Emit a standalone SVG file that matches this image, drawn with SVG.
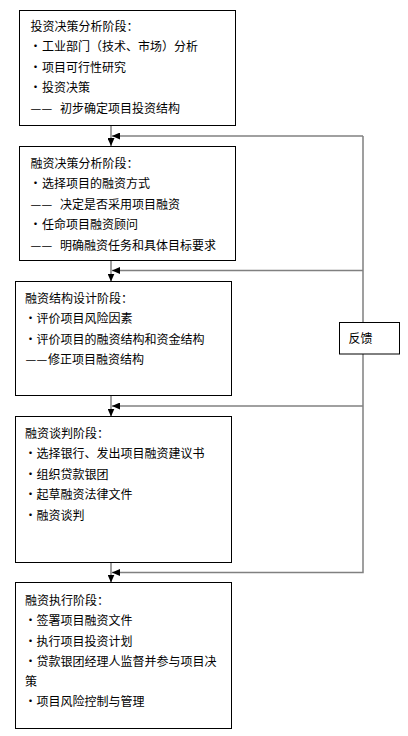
<svg xmlns="http://www.w3.org/2000/svg" width="408" height="736" viewBox="0 0 408 736">
<style>
.box{fill:#fff;stroke:#000;stroke-width:1}
.t{font-family:"Noto Sans CJK SC","Noto Sans CJK JP",sans-serif;font-size:12px;fill:#000}
.d{text-anchor:middle}
.ln{fill:none;stroke:#808080;stroke-width:1.5}
</style>
<defs>
<marker id="ah" markerUnits="userSpaceOnUse" markerWidth="8" markerHeight="7" refX="8" refY="3.5" orient="auto">
<path d="M0,0 L8,3.5 L0,7 z" fill="#000"/>
</marker>
</defs>
<rect width="408" height="736" fill="#fff"/>
<g id="connectors">
<path class="ln" d="M111,125.5 V146" marker-end="url(#ah)"/>
<path class="ln" d="M111,260.5 V281.5" marker-end="url(#ah)"/>
<path class="ln" d="M111,395.5 V416.5" marker-end="url(#ah)"/>
<path class="ln" d="M111,562.5 V582.5" marker-end="url(#ah)"/>
<path class="ln" d="M363,136 H112" marker-end="url(#ah)"/>
<path class="ln" d="M363,270.5 H112" marker-end="url(#ah)"/>
<path class="ln" d="M363,406 H112" marker-end="url(#ah)"/>
<path class="ln" d="M363,136 V572.5 H112" marker-end="url(#ah)"/>
</g>
<g id="node1">
<rect class="box" x="19.5" y="10.5" width="216" height="115"/>
<text class="t" x="30.5" y="30.5">投资决策分析阶段：</text>
<text class="t" y="51"><tspan class="d" x="35.5">·</tspan><tspan x="42">工业部门（技术、市场）分析</tspan></text>
<text class="t" y="71.5"><tspan class="d" x="35.5">·</tspan><tspan x="42">项目可行性研究</tspan></text>
<text class="t" y="92"><tspan class="d" x="35.5">·</tspan><tspan x="42">投资决策</tspan></text>
<text class="t" y="112.5"><tspan x="30.5">—</tspan><tspan x="41.5">— </tspan><tspan x="60">初步确定项目投资结构</tspan></text>
</g>
<g id="node2">
<rect class="box" x="19.5" y="146.5" width="216" height="114"/>
<text class="t" x="30.5" y="167.5">融资决策分析阶段：</text>
<text class="t" y="188"><tspan class="d" x="35.5">·</tspan><tspan x="42">选择项目的融资方式</tspan></text>
<text class="t" y="208.5"><tspan x="30.5">—</tspan><tspan x="41.5">— </tspan><tspan x="60">决定是否采用项目融资</tspan></text>
<text class="t" y="229"><tspan class="d" x="35.5">·</tspan><tspan x="42">任命项目融资顾问</tspan></text>
<text class="t" y="249.5"><tspan x="30.5">—</tspan><tspan x="41.5">— </tspan><tspan x="60">明确融资任务和具体目标要求</tspan></text>
</g>
<g id="node3">
<rect class="box" x="15.5" y="281.5" width="216" height="114"/>
<text class="t" x="25" y="302.5">融资结构设计阶段：</text>
<text class="t" y="323"><tspan class="d" x="30.5">·</tspan><tspan x="36.5">评价项目风险因素</tspan></text>
<text class="t" y="343.5"><tspan class="d" x="30.5">·</tspan><tspan x="36.5">评价项目的融资结构和资金结构</tspan></text>
<text class="t" y="364"><tspan x="25.5">—</tspan><tspan x="36.5">—</tspan><tspan x="48">修正项目融资结构</tspan></text>
</g>
<g id="node4">
<rect class="box" x="15.5" y="416.5" width="216" height="146"/>
<text class="t" x="25" y="437.5">融资谈判阶段：</text>
<text class="t" y="458"><tspan class="d" x="30.5">·</tspan><tspan x="36.5">选择银行、发出项目融资建议书</tspan></text>
<text class="t" y="478.5"><tspan class="d" x="30.5">·</tspan><tspan x="36.5">组织贷款银团</tspan></text>
<text class="t" y="499"><tspan class="d" x="30.5">·</tspan><tspan x="36.5">起草融资法律文件</tspan></text>
<text class="t" y="519.5"><tspan class="d" x="30.5">·</tspan><tspan x="36.5">融资谈判</tspan></text>
</g>
<g id="node5">
<rect class="box" x="15.5" y="582.5" width="216" height="146"/>
<text class="t" x="25" y="604.5">融资执行阶段：</text>
<text class="t" y="625"><tspan class="d" x="30.5">·</tspan><tspan x="36.5">签署项目融资文件</tspan></text>
<text class="t" y="645.5"><tspan class="d" x="30.5">·</tspan><tspan x="36.5">执行项目投资计划</tspan></text>
<text class="t" y="666"><tspan class="d" x="30.5">·</tspan><tspan x="36.5">贷款银团经理人监督并参与项目决</tspan></text>
<text class="t" x="25" y="686">策</text>
<text class="t" y="706"><tspan class="d" x="30.5">·</tspan><tspan x="36.5">项目风险控制与管理</tspan></text>
</g>
<g id="feedback">
<rect class="box" x="339.5" y="322.5" width="60" height="31.5"/>
<text class="t" x="348.5" y="343">反馈</text>
</g>
</svg>
